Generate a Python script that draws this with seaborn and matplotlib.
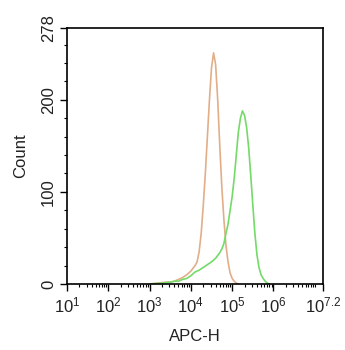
import numpy as np
import pandas as pd
import matplotlib
matplotlib.use("Agg")
import matplotlib.pyplot as plt
from matplotlib.ticker import FixedLocator, NullFormatter
import seaborn as sns

# Control (orange) histogram: log10(APC-H) and counts
ctrl_log = [3.0, 3.2, 3.4, 3.5, 3.6, 3.7, 3.8, 3.9, 4.0, 4.05, 4.1, 4.15, 4.2, 4.25,
            4.3, 4.35, 4.4, 4.45, 4.5, 4.55, 4.6, 4.65, 4.7, 4.75, 4.8, 4.85, 4.9,
            4.95, 5.0, 5.05, 5.1, 5.15]
ctrl_cnt = [0, 1, 2, 2, 3, 5, 7, 10, 14, 17, 20, 24, 35, 55,
            85, 120, 160, 200, 235, 251, 238, 200, 150, 105, 70, 42, 24,
            12, 6, 3, 1, 0]

# Stained (green) histogram
stain_log = [3.0, 3.3, 3.5, 3.6, 3.7, 3.8, 3.9, 4.0, 4.1, 4.2, 4.3, 4.4, 4.5, 4.6,
             4.65, 4.7, 4.75, 4.8, 4.85, 4.9, 4.95, 5.0, 5.05, 5.1, 5.15, 5.2,
             5.25, 5.3, 5.35, 5.4, 5.45, 5.5, 5.55, 5.6, 5.65, 5.7, 5.75, 5.8,
             5.85, 5.9]
stain_cnt = [0, 1, 2, 3, 3, 5, 6, 9, 13, 15, 18, 21, 24, 28,
             31, 34, 38, 44, 55, 65, 80, 95, 115, 140, 165, 180,
             188, 183, 170, 148, 118, 86, 55, 32, 18, 10, 6, 3,
             1, 0]

x_tick_exps = [1, 2, 3, 4, 5, 6, 7.2]
x_tick_labels = [r"$\mathregular{10^{1}}$", r"$\mathregular{10^{2}}$",
                 r"$\mathregular{10^{3}}$", r"$\mathregular{10^{4}}$",
                 r"$\mathregular{10^{5}}$", r"$\mathregular{10^{6}}$",
                 r"$\mathregular{10^{7.2}}$"]
y_ticks = [0, 100, 200, 278]
y_tick_labels = ["0", "100", "200", "278"]

df = pd.concat([
    pd.DataFrame({"APC-H": 10 ** np.array(ctrl_log, float), "Count": ctrl_cnt, "grp": "control"}),
    pd.DataFrame({"APC-H": 10 ** np.array(stain_log, float), "Count": stain_cnt, "grp": "stained"}),
])

sns.set_style("ticks")
plt.rcParams["font.family"] = ["Liberation Sans", "DejaVu Sans"]
plt.rcParams["mathtext.fontset"] = "custom"
plt.rcParams["mathtext.rm"] = "Liberation Sans"

fig = plt.figure(figsize=(3.45, 3.5), dpi=100)
ax = fig.add_axes([67 / 345, 66 / 350, 256 / 345, 256 / 350])

sns.lineplot(data=df, x="APC-H", y="Count", hue="grp",
             palette={"control": "#e2ae88", "stained": "#74da68"},
             linewidth=1.2, legend=False, ax=ax, estimator=None, sort=False)

ax.set_xscale("log")
ax.set_xlim(10 ** 1, 10 ** 7.2)
ax.set_ylim(0, 278)

ax.xaxis.set_major_locator(FixedLocator([10 ** e for e in x_tick_exps]))
ax.set_xticklabels(x_tick_labels, fontsize=12, color="#222222")
minors = [m * 10 ** d for d in range(1, 8) for m in range(2, 10) if m * 10 ** d < 10 ** 7.2]
minors.append(10 ** 7)
ax.xaxis.set_minor_locator(FixedLocator(minors))
ax.xaxis.set_minor_formatter(NullFormatter())

ax.set_yticks(y_ticks)
ax.set_yticklabels(y_tick_labels, fontsize=12, rotation=90, va="center", color="#222222")
ax.yaxis.set_minor_locator(FixedLocator([v for v in range(20, 278, 20) if v % 100 != 0]))

ax.tick_params(axis="both", which="major", length=5, width=1, color="black", pad=3)
ax.tick_params(axis="both", which="minor", length=2.5, width=0.8, color="black")

for s in ax.spines.values():
    s.set_color("black")
    s.set_linewidth(1.2)

ax.set_xlabel("APC-H", fontsize=12, labelpad=10, color="#222222")
ax.set_ylabel("Count", fontsize=12, labelpad=9, color="#222222")

fig.savefig("out.png", dpi=100, facecolor="white")
